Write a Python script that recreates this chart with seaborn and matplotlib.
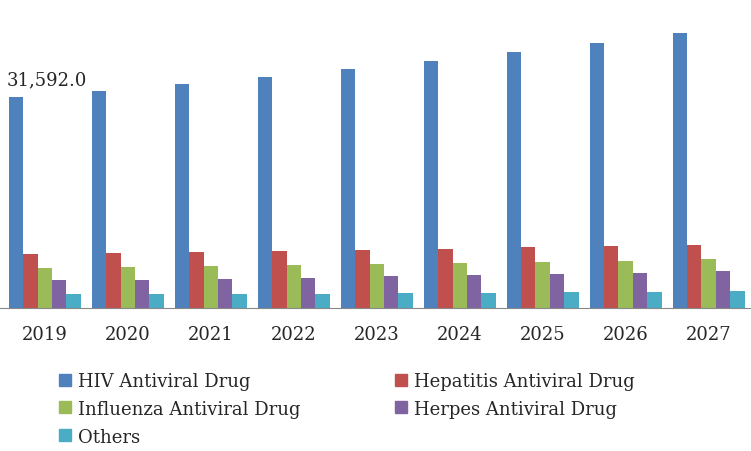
import pandas as pd
import matplotlib.pyplot as plt
import seaborn as sns

years = ['2019', '2020', '2021', '2022', '2023', '2024', '2025', '2026', '2027']
hiv = [31592, 32490, 33538, 34586, 35784, 36982, 38330, 39677, 41174]
hepatitis = [8085, 8230, 8380, 8530, 8680, 8830, 9130, 9280, 9430]
influenza = [5990, 6140, 6290, 6440, 6590, 6740, 6890, 7040, 7340]
herpes = [4190, 4190, 4340, 4490, 4790, 4940, 5090, 5240, 5540]
others = [2100, 2100, 2100, 2100, 2250, 2250, 2400, 2400, 2550]

series = {
    'HIV Antiviral Drug': hiv,
    'Hepatitis Antiviral Drug': hepatitis,
    'Influenza Antiviral Drug': influenza,
    'Herpes Antiviral Drug': herpes,
    'Others': others,
}
colors = ['#4F81BD', '#C0504D', '#9BBB59', '#8064A2', '#4BACC6']

rows = []
for name, vals in series.items():
    for y, v in zip(years, vals):
        rows.append({'Year': y, 'Type': name, 'Value': v})
df = pd.DataFrame(rows)

sns.set_style('white')
plt.rcParams['font.family'] = ['DejaVu Serif']

fig = plt.figure(figsize=(7.51, 4.52), dpi=100)
ax = fig.add_axes([0, 0.316, 1, 0.661])
sns.barplot(data=df, x='Year', y='Value', hue='Type', palette=colors,
            width=0.87, saturation=1, linewidth=0, ax=ax, legend=False)

ax.set_xlim(-0.54, 8.51)
ax.set_ylim(0, 44767)
ax.set_xlabel('')
ax.set_ylabel('')
ax.set_yticks([])
for s in ['top', 'left', 'right']:
    ax.spines[s].set_visible(False)
ax.spines['bottom'].set_color('#888888')
ax.tick_params(axis='x', labelsize=13, length=0, pad=12)

ax.text(-0.46, hiv[0] + 1300, '31,592.0', fontsize=13, ha='left', va='bottom')

names = list(series.keys())
order = [0, 2, 4, 1, 3]  # row-major reading in a 2-column legend
handles = [plt.Line2D([], [], marker='s', linestyle='', color=colors[i], markersize=8)
           for i in order]
fig.legend(handles, [names[i] for i in order], loc='upper left', ncol=2,
           bbox_to_anchor=(0.065, 0.195), frameon=False, fontsize=13,
           handletextpad=0.3, columnspacing=5.2, labelspacing=0.55,
           handlelength=0.8, borderpad=0)

fig.savefig('out.png', dpi=100)
